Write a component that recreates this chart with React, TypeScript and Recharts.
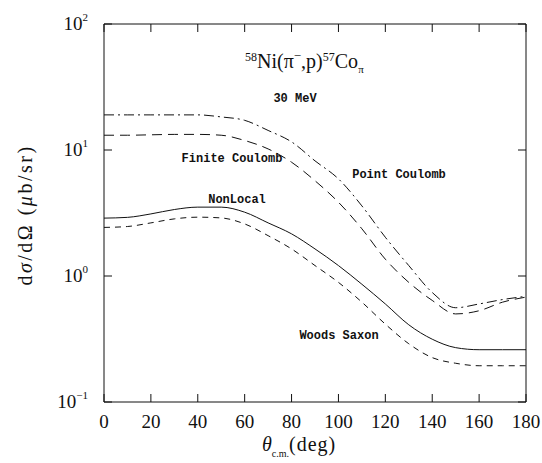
import React from "react";
import { LineChart, Line, XAxis, YAxis } from "recharts";

// angles in degrees (c.m.)
const angles = [0, 10, 20, 30, 40, 50, 60, 70, 80, 90, 100, 110, 120, 130, 140, 150, 160, 170, 180];

// cross sections in ub/sr
const pointCoulomb = [19.0, 19.0, 19.0, 19.0, 19.0, 18.3, 17.2, 14.3, 11.6, 8.2, 5.9, 3.6, 2.03, 1.21, 0.74, 0.56, 0.6, 0.65, 0.69];
const finiteCoulomb = [13.1, 13.1, 13.2, 13.3, 13.3, 13.1, 11.9, 10.2, 8.0, 5.7, 3.85, 2.37, 1.36, 0.89, 0.64, 0.5, 0.53, 0.62, 0.68];
const nonLocal = [2.88, 2.92, 3.11, 3.37, 3.52, 3.52, 3.21, 2.64, 2.16, 1.64, 1.21, 0.86, 0.6, 0.41, 0.315, 0.27, 0.26, 0.26, 0.26];
const woodsSaxon = [2.43, 2.47, 2.64, 2.84, 2.93, 2.89, 2.59, 2.09, 1.64, 1.21, 0.89, 0.62, 0.415, 0.29, 0.225, 0.203, 0.194, 0.194, 0.194];

const xTicks = [0, 20, 40, 60, 80, 100, 120, 140, 160, 180];
const yTicks = [0.1, 1, 10, 100];
const yExp: Record<string, string> = { "0.1": "\u22121", "1": "0", "10": "1", "100": "2" };

const data = angles.map((a, i) => ({
  angle: a,
  pc: pointCoulomb[i],
  fc: finiteCoulomb[i],
  nl: nonLocal[i],
  ws: woodsSaxon[i],
}));

const SERIF = "'Liberation Serif', 'DejaVu Serif', serif";
const MONO = "'Liberation Mono', 'DejaVu Sans Mono', monospace";
const INK = "#111";

const YTick = (props: any) => {
  const { y, payload } = props;
  return (
    <text x={88} y={y + 6} textAnchor="end" fontFamily={SERIF} fontSize={19} fill={INK}>
      10
      <tspan dy={-9} fontSize={11}>{yExp[String(payload.value)]}</tspan>
    </text>
  );
};

const XTick = (props: any) => {
  const { x, payload } = props;
  return (
    <text x={x} y={428} textAnchor="middle" fontFamily={SERIF} fontSize={19} fill={INK}>
      {payload.value}
    </text>
  );
};

const blank = () => "";

export default function App() {
  return (
    <div style={{ position: "absolute", left: 0, top: 0, width: 542, height: 463, background: "#fff" }}>
      <LineChart width={542} height={463} data={data} margin={{ top: 23, right: 15, bottom: 31, left: 44 }}>
        <XAxis
          dataKey="angle"
          type="number"
          domain={[0, 180]}
          ticks={xTicks}
          tickSize={-8}
          tick={<XTick />}
          height={30}
          stroke={INK}
        />
        <XAxis
          xAxisId="top"
          dataKey="angle"
          type="number"
          orientation="top"
          domain={[0, 180]}
          ticks={xTicks}
          tickSize={-8}
          tickFormatter={blank}
          height={1}
          stroke={INK}
        />
        <YAxis
          scale="log"
          domain={[0.1, 100]}
          ticks={yTicks}
          allowDataOverflow
          tickSize={-8}
          tick={<YTick />}
          width={60}
          stroke={INK}
        />
        <YAxis
          yAxisId="right"
          orientation="right"
          scale="log"
          domain={[0.1, 100]}
          ticks={yTicks}
          allowDataOverflow
          tickSize={-8}
          tickFormatter={blank}
          width={1}
          stroke={INK}
        />
        <Line type="monotone" dataKey="pc" stroke={INK} strokeWidth={1} strokeDasharray="10 4 2 4" dot={false} isAnimationActive={false} />
        <Line type="monotone" dataKey="fc" stroke={INK} strokeWidth={1} strokeDasharray="10 6" dot={false} isAnimationActive={false} />
        <Line type="monotone" dataKey="nl" stroke={INK} strokeWidth={1} dot={false} isAnimationActive={false} />
        <Line type="monotone" dataKey="ws" stroke={INK} strokeWidth={1} strokeDasharray="6 5" dot={false} isAnimationActive={false} />
      </LineChart>
      <svg width={542} height={463} style={{ position: "absolute", left: 0, top: 0, pointerEvents: "none" }}>
        <text x={245} y={68} fontFamily={SERIF} fontSize={20} fill={INK}>
          <tspan fontSize={12} dy={-7}>58</tspan>
          <tspan dy={7}>Ni(π</tspan>
          <tspan fontSize={13} dy={-8}>−</tspan>
          <tspan dy={8}>,p)</tspan>
          <tspan fontSize={12} dy={-7}>57</tspan>
          <tspan dy={7}>Co</tspan>
          <tspan fontSize={11} dy={5}>π</tspan>
        </text>
        <text x={295} y={102} textAnchor="middle" fontFamily={MONO} fontWeight="bold" fontSize={12} fill={INK}>30 MeV</text>
        <text x={232} y={162} textAnchor="middle" fontFamily={MONO} fontWeight="bold" fontSize={12} fill={INK}>Finite Coulomb</text>
        <text x={399} y={178} textAnchor="middle" fontFamily={MONO} fontWeight="bold" fontSize={12} fill={INK}>Point Coulomb</text>
        <text x={237} y={203} textAnchor="middle" fontFamily={MONO} fontWeight="bold" fontSize={12} fill={INK}>NonLocal</text>
        <text x={339} y={339} textAnchor="middle" fontFamily={MONO} fontWeight="bold" fontSize={12} fill={INK}>Woods Saxon</text>
        <text x={262} y={451} fontFamily={SERIF} fontSize={20} fill={INK}>
          <tspan fontStyle="italic">θ</tspan>
          <tspan fontSize={10} dy={6}>c.m.</tspan>
          <tspan dy={-6} letterSpacing={1}>(deg)</tspan>
        </text>
        <text
          x={0}
          y={0}
          transform="translate(32,215) rotate(-90)"
          textAnchor="middle"
          fontFamily={SERIF}
          fontSize={20}
          letterSpacing={2.5}
          fill={INK}
        >
          d<tspan fontStyle="italic">σ</tspan>/dΩ  (<tspan fontStyle="italic">μ</tspan>b/sr)
        </text>
      </svg>
    </div>
  );
}
